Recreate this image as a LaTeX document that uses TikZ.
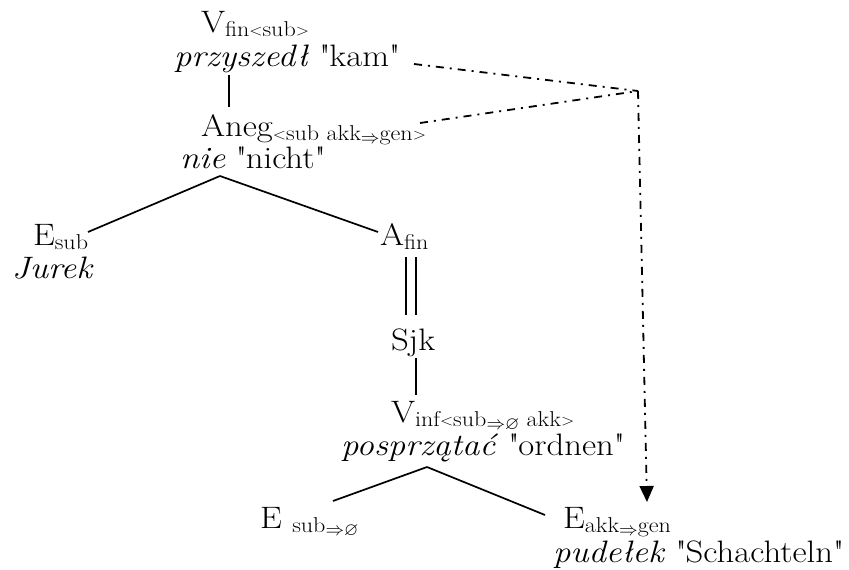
\documentclass[tikz,border=0pt]{standalone}
\usepackage{amssymb}
\usepackage{graphicx}
\usepackage{fontspec}
\setmainfont{Latin Modern Roman}[FakeStretch=1.12]
\usetikzlibrary{arrows.meta}
\newcommand\subtx[1]{\raisebox{-4pt}{\fontsize{21.5}{22}\selectfont #1}}
\newcommand\arr{\raisebox{-3.5pt}{\scalebox{0.9}{$\Rightarrow$}}}
\newcommand\emptyst{\raisebox{-3pt}{\scalebox{0.85}{$\varnothing$}}}
\newcommand\lt{\raisebox{0.5pt}{\scalebox{0.72}{<}}}
\newcommand\gt{\raisebox{0.5pt}{\scalebox{0.72}{>}}}
\newcommand\q{\textquotedbl}
\begin{document}
\begin{tikzpicture}[x=1pt,y=-1pt,
  txt/.style={anchor=base west,inner sep=0pt,outer sep=0pt,font=\fontsize{31}{35}\selectfont},
  edge/.style={line width=1.7pt},
  dd/.style={line width=1.8pt,dash pattern=on 8pt off 6pt on 2pt off 6pt}]
\useasboundingbox (0,0) rectangle (849,570);
\node[txt] (vfin) at (201,32) {V\subtx{fin\lt sub\gt}};
\node[txt] (vfinw) at (174,66) {\textit{przyszedł} \q kam\q};
\node[txt] (aneg) at (201,136) {Aneg\subtx{\lt sub akk\arr gen\gt}};
\node[txt] (anegw) at (180,168) {\textit{nie} \q nicht\q};
\node[txt] (esub) at (33,245) {E\subtx{sub}};
\node[txt] (esubw) at (12,278) {\textit{Jurek}};
\node[txt] (afin) at (380,245) {A\subtx{fin}};
\node[txt] (sjk) at (391,350) {Sjk};
\node[txt] (vinf) at (391,422) {V\subtx{inf\lt sub\arr\emptyst\ akk\gt}};
\node[txt] (vinfw) at (341,455) {\textit{posprzątać} \q ordnen\q};
\node[txt] (esubb) at (260,528) {E \subtx{sub\arr\emptyst}};
\node[txt] (eakk) at (563,528) {E\subtx{akk\arr gen}};
\node[txt] (eakkw) at (553,562) {\textit{pudełek} \q Schachteln\q};
% connector end points
\coordinate (a1) at (229,75);
\coordinate (a2) at (229,107);
\coordinate (nieapex) at (220,176);
\coordinate (esubr) at (88,232);
\coordinate (afinl) at (378,232);
\coordinate (d1t) at (406,257);
\coordinate (d1b) at (406,315);
\coordinate (d2t) at (416,257);
\coordinate (d2b) at (416,315);
\coordinate (s1) at (416,358);
\coordinate (s2) at (416,395);
\coordinate (papex) at (427,467);
\coordinate (eb) at (333,501);
\coordinate (ea) at (545,515);
\coordinate (kamr) at (414,64);
\coordinate (anegr) at (420,123);
\coordinate (apex) at (638,91);
\coordinate (tip) at (647,502);
\draw[edge] (a1) -- (a2);
\draw[edge] (nieapex) -- (esubr);
\draw[edge] (nieapex) -- (afinl);
\draw[edge] (d1t) -- (d1b);
\draw[edge] (d2t) -- (d2b);
\draw[edge] (s1) -- (s2);
\draw[edge] (papex) -- (eb);
\draw[edge] (papex) -- (ea);
\draw[dd] (kamr) -- (apex);
\draw[dd] (anegr) -- (apex);
\draw[dd,-{Triangle[length=16pt,width=14pt]}] (apex) -- (tip);
\end{tikzpicture}
\end{document}
